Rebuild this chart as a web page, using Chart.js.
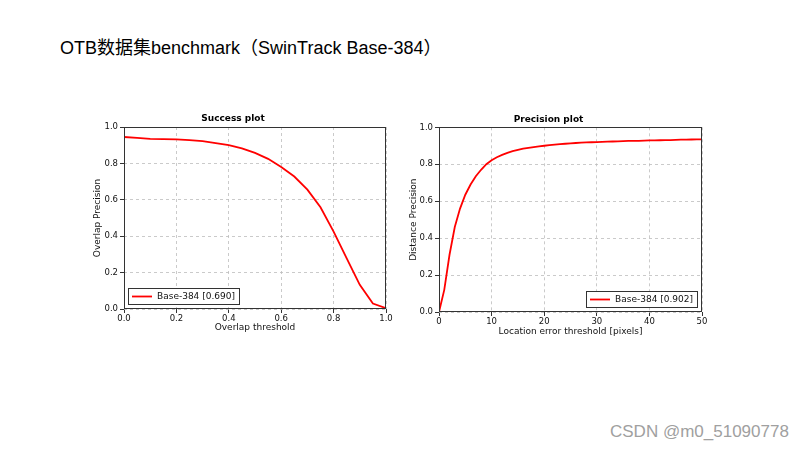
<!DOCTYPE html>
<html>
<head>
<meta charset="utf-8">
<script src="https://cdn.jsdelivr.net/npm/chart.js@4"></script>
<style>
  html, body { margin: 0; padding: 0; background: #fff; }
  body { width: 800px; height: 450px; position: relative; overflow: hidden; }
  #mainTitle { position: absolute; left: 60px; top: 37px; font-family: "Liberation Sans", "Noto Sans CJK SC", sans-serif; font-size: 18px; color: #000; white-space: nowrap; line-height: 22px; }
  #watermark { position: absolute; left: 610px; top: 421px; font-family: "Liberation Sans", sans-serif; font-size: 17px; color: #a0a0a0; white-space: nowrap; line-height: 22px; }
  canvas { position: absolute; }
</style>
</head>
<body>
<div id="mainTitle">OTB数据集benchmark（SwinTrack Base-384）</div>
<div id="watermark">CSDN @m0_51090778</div>
<canvas id="success" width="320" height="240" style="left:80px;top:100px;"></canvas>
<canvas id="precision" width="320" height="243" style="left:395px;top:100px;"></canvas>
<script>
// ---- data ----
const seriesName = "Base-384";
const successAUC = "0.690";
const precisionScore = "0.902";
const successThresholds = [0, 0.05, 0.1, 0.15, 0.2, 0.25, 0.3, 0.35, 0.4, 0.45, 0.5, 0.55, 0.6, 0.65, 0.7, 0.75, 0.8, 0.85, 0.9, 0.95, 1.0];
const successValues = [0.945, 0.940, 0.935, 0.933, 0.932, 0.928, 0.922, 0.912, 0.900, 0.883, 0.858, 0.825, 0.780, 0.728, 0.656, 0.559, 0.425, 0.278, 0.133, 0.030, 0.005];
const precisionThresholds = [0, 1, 2, 3, 4, 5, 6, 7, 8, 9, 10, 11, 12, 13, 14, 15, 16, 17, 18, 19, 20, 21, 22, 23, 24, 25, 26, 27, 28, 29, 30, 31, 32, 33, 34, 35, 36, 37, 38, 39, 40, 41, 42, 43, 44, 45, 46, 47, 48, 49, 50];
const precisionValues = [0.000, 0.120, 0.310, 0.460, 0.560, 0.635, 0.690, 0.735, 0.770, 0.800, 0.822, 0.838, 0.851, 0.862, 0.871, 0.878, 0.884, 0.889, 0.893, 0.897, 0.900, 0.903, 0.906, 0.909, 0.911, 0.913, 0.915, 0.917, 0.918, 0.919, 0.920, 0.921, 0.922, 0.923, 0.924, 0.925, 0.926, 0.927, 0.927, 0.928, 0.929, 0.929, 0.930, 0.931, 0.931, 0.932, 0.933, 0.933, 0.934, 0.935, 0.935];
const yTickValues = [0.0, 0.2, 0.4, 0.6, 0.8, 1.0];
const successXTicks = [0.0, 0.2, 0.4, 0.6, 0.8, 1.0];
const precisionXTicks = [0, 10, 20, 30, 40, 50];

Chart.defaults.font.family = "DejaVu Sans";
Chart.defaults.color = "#111";

const framePlugin = {
  id: 'frameBox',
  afterDraw(chart) {
    const {ctx, chartArea: a} = chart;
    ctx.save();
    ctx.strokeStyle = '#333';
    ctx.lineWidth = 1;
    ctx.strokeRect(Math.round(a.left) + 0.5, Math.round(a.top) + 0.5, Math.round(a.right - a.left) - 1, Math.round(a.bottom - a.top) - 1);
    ctx.restore();
  }
};

const boxLegendPlugin = {
  id: 'boxLegend',
  afterDraw(chart, args, opts) {
    const {ctx, chartArea: a} = chart;
    const ds = chart.data.datasets[0];
    ctx.save();
    ctx.font = '9px "DejaVu Sans"';
    const tw = ctx.measureText(ds.label).width;
    const w = 4 + 20 + 5 + tw + 4;
    const h = 16;
    const x = opts.corner === 'left' ? a.left + 4 : a.right - 5 - w;
    const y = a.bottom - 5 - h;
    ctx.fillStyle = '#fff';
    ctx.fillRect(x, y, w, h);
    ctx.strokeStyle = '#333';
    ctx.lineWidth = 1;
    ctx.strokeRect(Math.round(x) + 0.5, Math.round(y) + 0.5, Math.round(w), Math.round(h));
    ctx.strokeStyle = ds.borderColor;
    ctx.lineWidth = 1.8;
    ctx.beginPath();
    ctx.moveTo(x + 4, y + h / 2 + 0.5);
    ctx.lineTo(x + 24, y + h / 2 + 0.5);
    ctx.stroke();
    ctx.fillStyle = '#111';
    ctx.textBaseline = 'middle';
    ctx.fillText(ds.label, x + 29, y + h / 2 + 1);
    ctx.restore();
  }
};

function makeChart(id, xs, ys, label, opt) {
  const points = xs.map((x, i) => ({x: x, y: ys[i]}));
  return new Chart(document.getElementById(id), {
    type: 'line',
    data: {
      datasets: [{
        label: label,
        data: points,
        borderColor: '#ff0000',
        borderWidth: 1.8,
        pointRadius: 0,
        fill: false,
        tension: 0
      }]
    },
    options: {
      responsive: false,
      animation: false,
      devicePixelRatio: 1,
      layout: { padding: { top: 0, left: 0, right: opt.padRight, bottom: 0 } },
      plugins: {
        legend: { display: false },
        tooltip: { enabled: false },
        title: {
          display: true,
          text: opt.title,
          color: '#000',
          font: { size: 9, weight: 'bold' },
          padding: { top: opt.titleTop, bottom: opt.titleBottom }
        },
        boxLegend: { corner: opt.corner }
      },
      scales: {
        x: {
          type: 'linear',
          min: opt.xMin,
          max: opt.xMax,
          afterFit: (s) => { s.height = 31; },
          afterBuildTicks: (s) => { s.ticks = opt.xTicks.map(v => ({value: v})); },
          ticks: {
            padding: 1,
            font: { size: 8.5 },
            color: '#111',
            maxRotation: 0,
            autoSkip: false,
            callback: opt.xFormat
          },
          grid: {
            color: '#bdbdbd',
            lineWidth: 0.8,
            drawTicks: true,
            tickLength: 4,
            tickColor: '#333',
            tickWidth: 1,
            tickBorderDash: []
          },
          border: { display: false, dash: [3, 3] },
          title: {
            display: true,
            text: opt.xTitle,
            color: '#111',
            font: { size: 9 },
            padding: { top: 0, bottom: opt.xTitleBottom }
          }
        },
        y: {
          type: 'linear',
          min: 0,
          max: 1,
          afterFit: (s) => { s.width = 44; },
          afterBuildTicks: (s) => { s.ticks = yTickValues.map(v => ({value: v})); },
          ticks: {
            padding: 2,
            font: { size: 8.5 },
            color: '#111',
            autoSkip: false,
            callback: (v) => Number(v).toFixed(1)
          },
          grid: {
            color: '#bdbdbd',
            lineWidth: 0.8,
            drawTicks: true,
            tickLength: 4,
            tickColor: '#333',
            tickWidth: 1,
            tickBorderDash: []
          },
          border: { display: false, dash: [3, 3] },
          title: {
            display: true,
            text: opt.yTitle,
            color: '#111',
            font: { size: 9 },
            padding: { top: opt.yTitleTop, bottom: 0 }
          }
        }
      }
    },
    plugins: [framePlugin, boxLegendPlugin]
  });
}

makeChart('success', successThresholds, successValues, seriesName + ' [' + successAUC + ']', {
  title: 'Success plot', xTitle: 'Overlap threshold', yTitle: 'Overlap Precision',
  xMin: 0, xMax: 1, xTicks: successXTicks, xFormat: (v) => Number(v).toFixed(1),
  padRight: 14, titleTop: 13.6, titleBottom: 2.6, xTitleBottom: 6.6, yTitleTop: 12.6, corner: 'left'
});

makeChart('precision', precisionThresholds, precisionValues, seriesName + ' [' + precisionScore + ']', {
  title: 'Precision plot', xTitle: 'Location error threshold [pixels]', yTitle: 'Distance Precision',
  xMin: 0, xMax: 50, xTicks: precisionXTicks, xFormat: (v) => String(Math.round(v)),
  padRight: 13, titleTop: 14.2, titleBottom: 2.3, xTitleBottom: 5.9, yTitleTop: 12.9, corner: 'right'
});
</script>
</body>
</html>
